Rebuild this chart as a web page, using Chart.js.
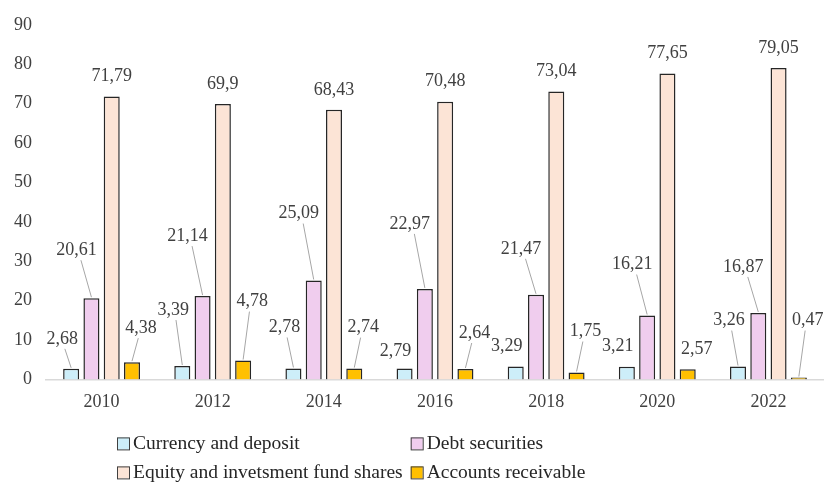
<!DOCTYPE html>
<html>
<head>
<meta charset="utf-8">
<title>Financial assets</title>
<script src="https://cdn.jsdelivr.net/npm/chart.js@4.4.0/dist/chart.umd.min.js"></script>
<style>
    html, body { margin: 0; padding: 0; background: #fff; }
    #wrap { width: 824px; height: 486px; position: relative; }
</style>
</head>
<body>
<div id="wrap"><canvas id="assetsChart"></canvas></div>
<script>
const years = ['2010', '2012', '2014', '2016', '2018', '2020', '2022'];
const currencyDeposit = [2.68, 3.39, 2.78, 2.79, 3.29, 3.21, 3.26];
const debtSecurities = [20.61, 21.14, 25.09, 22.97, 21.47, 16.21, 16.87];
const equityFundShares = [71.79, 69.9, 68.43, 70.48, 73.04, 77.65, 79.05];
const accountsReceivable = [4.38, 4.78, 2.74, 2.64, 1.75, 2.57, 0.47];

// how far (px) each value label sits above its bar
const liftCurrency = [30, 56, 41, 17, 20, 20, 46];
const liftDebt = [48, 60, 67, 65, 46, 51, 46];
const liftEquity = [20, 20, 20, 20, 20, 20, 20];
const liftReceivable = [34, 59, 41, 36, 41, 20, 57];

const serif = '"Liberation Serif", "Times New Roman", serif';

function fmt(v) {
    return String(v).replace('.', ',');
}

// value labels with grey leader lines
const barLabels = {
    id: 'barLabels',
    afterDatasetsDraw(chart) {
        const c = chart.ctx;
        c.save();
        c.font = '18px ' + serif;
        c.textAlign = 'center';
        c.textBaseline = 'middle';
        chart.data.datasets.forEach((ds, i) => {
            const meta = chart.getDatasetMeta(i);
            meta.data.forEach((bar, j) => {
                const lift = ds.labelLift[j];
                const lx = bar.x + ds.labelShift;
                const ly = bar.y - lift;
                if (lift > 25) {
                    c.strokeStyle = '#a6a6a6';
                    c.lineWidth = 1;
                    c.beginPath();
                    c.moveTo(bar.x, bar.y - 1);
                    c.lineTo(lx - ds.labelShift * 0.3, ly + 10);
                    c.stroke();
                }
                c.fillStyle = '#404040';
                c.fillText(fmt(ds.data[j]), lx, ly);
            });
        });
        c.restore();
    }
};

// two-column legend under the axis
const gridLegend = {
    id: 'gridLegend',
    afterDraw(chart) {
        const c = chart.ctx;
        const ds = chart.data.datasets;
        c.save();
        c.font = '19.5px ' + serif;
        c.textBaseline = 'middle';
        const x1 = 117;
        const colW = Math.max(c.measureText(ds[0].label).width, c.measureText(ds[2].label).width);
        const x2 = x1 + 16 + colW + 8;
        const rows = [chart.chartArea.bottom + 64, chart.chartArea.bottom + 93];
        ds.forEach((d, i) => {
            const x = i % 2 === 0 ? x1 : x2;
            const y = rows[Math.floor(i / 2)];
            c.fillStyle = d.backgroundColor;
            c.fillRect(x, y - 6, 12, 12);
            c.strokeStyle = '#404040';
            c.lineWidth = 1;
            c.strokeRect(x + 0.5, y - 5.5, 12, 12);
            c.fillStyle = '#262626';
            c.fillText(d.label, x + 16, y);
        });
        c.restore();
    }
};

const ctx = document.getElementById('assetsChart').getContext('2d');
const assetsChart = new Chart(ctx, {
    type: 'bar',
    data: {
        labels: years,
        datasets: [{
            label: 'Currency and deposit',
            data: currencyDeposit,
            backgroundColor: '#cdeef9',
            labelLift: liftCurrency,
            labelShift: -9
        }, {
            label: 'Debt securities',
            data: debtSecurities,
            backgroundColor: '#f0cdee',
            labelLift: liftDebt,
            labelShift: -15
        }, {
            label: 'Equity and invetsment fund shares',
            data: equityFundShares,
            backgroundColor: '#fce4d6',
            labelLift: liftEquity,
            labelShift: 0
        }, {
            label: 'Accounts receivable',
            data: accountsReceivable,
            backgroundColor: '#ffc000',
            labelLift: liftReceivable,
            labelShift: 9
        }]
    },
    options: {
        responsive: true,
        maintainAspectRatio: false,
        animation: false,
        layout: {
            padding: { top: 12, left: 0, right: 0, bottom: 61 }
        },
        datasets: {
            bar: {
                borderColor: '#262626',
                borderWidth: 1.5,
                categoryPercentage: 0.73,
                barPercentage: 0.79
            }
        },
        plugins: {
            legend: { display: false },
            tooltip: { enabled: false }
        },
        scales: {
            x: {
                grid: { display: false, drawTicks: false },
                border: { color: '#d9d9d9', width: 1.5 },
                ticks: {
                    color: '#404040',
                    padding: 12,
                    font: { family: serif, size: 18 }
                }
            },
            y: {
                min: 0,
                max: 90,
                grid: { display: false, drawTicks: false },
                border: { display: false },
                ticks: {
                    stepSize: 10,
                    color: '#404040',
                    padding: 14,
                    font: { family: serif, size: 18 }
                }
            }
        }
    },
    plugins: [barLabels, gridLegend]
});
</script>
</body>
</html>
